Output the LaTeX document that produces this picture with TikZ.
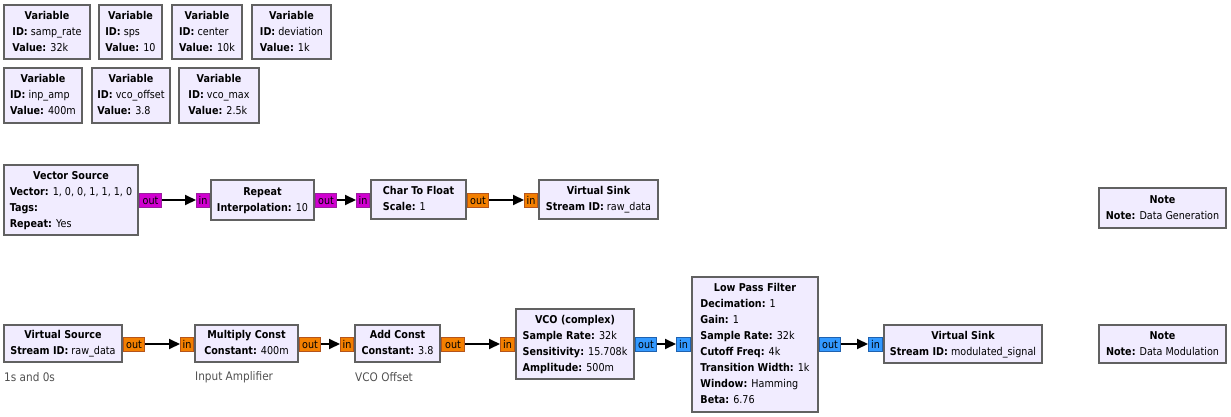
\documentclass[tikz,border=0pt]{standalone}
\usepackage{fontspec}
\setmainfont{DejaVu Sans}[FakeStretch=0.89]
\usetikzlibrary{arrows.meta}
\definecolor{blkfill}{HTML}{F1ECFF}
\definecolor{blkline}{HTML}{616161}
\definecolor{bytec}{HTML}{D000D0}
\definecolor{bytel}{HTML}{9A1FA0}
\definecolor{floatc}{HTML}{F37F00}
\definecolor{floatl}{HTML}{B5551C}
\definecolor{cplxc}{HTML}{3399FF}
\definecolor{cplxl}{HTML}{1F62B0}
\definecolor{cmtc}{HTML}{505050}
\tikzset{
  blk/.style={draw=blkline, fill=blkfill, line width=2pt, inner sep=0pt, rectangle, font=\fontsize{10.8}{16}\selectfont},
  prt/.style={rectangle, line width=1pt, inner sep=0pt, font=\fontsize{10.8}{13}\selectfont, text depth=0pt},
  wire/.style={line width=2pt, -{Triangle[length=11pt,width=10pt]}, shorten >=0pt},
  cmt/.style={anchor=west, inner sep=0pt, text=cmtc, font=\fontsize{11.8}{13}\selectfont},
}
% #1 name, #2 x1, #3 y1, #4 x2, #5 y2, #6 title, #7 params
\newcommand\grcblk[7]{%
  \node[blk, minimum width={(#4-#2-2)*1pt}, minimum height={(#5-#3-2)*1pt}]
    (#1) at ({(#2+#4)/2},{(#3+#5)/2})
    {\raisebox{-1pt}{\begin{tabular}{@{}l@{}}\multicolumn{1}{@{}c@{}}{\bfseries #6}#7\end{tabular}}};}
% #1 name, #2 x1, #3 x2, #4 yc, #5 text, #6 fill, #7 line
\newcommand\grcport[7]{%
  \node[prt, fill=#6, draw=#7, minimum width={(#3-#2-1)*1pt}, minimum height=14pt]
    (#1) at ({(#2+#3)/2},#4) {\raisebox{-0.5pt}{#5}};}
\begin{document}
\begin{tikzpicture}[x=1pt,y=-1pt]
\useasboundingbox (0,0) rectangle (1231,417);
% variables
\grcblk{v1}{3}{4}{91}{60}{Variable}{\\\textbf{ID:} samp\_rate\\\textbf{Value:} 32k}
\grcblk{v2}{98}{4}{163}{60}{Variable}{\\\textbf{ID:} sps\\\textbf{Value:} 10}
\grcblk{v3}{171}{4}{243}{60}{Variable}{\\\textbf{ID:} center\\\textbf{Value:} 10k}
\grcblk{v4}{251}{4}{332}{60}{Variable}{\\\textbf{ID:} deviation\\\textbf{Value:} 1k}
\grcblk{v5}{3}{67}{83}{124}{Variable}{\\\textbf{ID:} inp\_amp\\\textbf{Value:} 400m}
\grcblk{v6}{91}{67}{171}{124}{Variable}{\\\textbf{ID:} vco\_offset\\\textbf{Value:} 3.8}
\grcblk{v7}{178}{67}{260}{124}{Variable}{\\\textbf{ID:} vco\_max\\\textbf{Value:} 2.5k}
% data generation
\grcblk{vsrc}{3}{164}{139}{236}{Vector Source}{\\\textbf{Vector:} 1, 0, 0, 1, 1, 1, 0\\\textbf{Tags:}\\\textbf{Repeat:} Yes}
\grcblk{rep}{210}{179}{315}{221}{Repeat}{\\\textbf{Interpolation:} 10}
\grcblk{ctf}{370}{179}{467}{220}{Char To Float}{\\\textbf{Scale:} 1}
\grcblk{vsk1}{538}{179}{659}{220}{Virtual Sink}{\\\textbf{Stream ID:} raw\_data}
\grcblk{note1}{1098}{187}{1227}{229}{Note}{\\\textbf{Note:} Data Generation}
\grcport{vsrco}{139}{162}{200}{out}{bytec}{bytel}
\grcport{repi}{196}{210}{200}{in}{bytec}{bytel}
\grcport{repo}{315}{337}{200}{out}{bytec}{bytel}
\grcport{ctfi}{356}{370}{200}{in}{bytec}{bytel}
\grcport{ctfo}{467}{489}{200}{out}{floatc}{floatl}
\grcport{vsk1i}{524}{538}{200}{in}{floatc}{floatl}
\draw[wire] (vsrco) -- (repi);
\draw[wire] (repo) -- (ctfi);
\draw[wire] (ctfo) -- (vsk1i);
% modulation
\grcblk{vsc}{3}{324}{123}{363}{Virtual Source}{\\\textbf{Stream ID:} raw\_data}
\grcblk{mul}{194}{324}{299}{363}{Multiply Const}{\\\textbf{Constant:} 400m}
\grcblk{add}{354}{324}{441}{363}{Add Const}{\\\textbf{Constant:} 3.8}
\grcblk{vco}{515}{308}{635}{380}{VCO (complex)}{\\\textbf{Sample Rate:} 32k\\\textbf{Sensitivity:} 15.708k\\\textbf{Amplitude:} 500m}
\grcblk{lpf}{691}{276}{819}{413}{Low Pass Filter}{\\\textbf{Decimation:} 1\\\textbf{Gain:} 1\\\textbf{Sample Rate:} 32k\\\textbf{Cutoff Freq:} 4k\\\textbf{Transition Width:} 1k\\\textbf{Window:} Hamming\\\textbf{Beta:} 6.76}
\grcblk{vsk2}{883}{324}{1043}{364}{Virtual Sink}{\\\textbf{Stream ID:} modulated\_signal}
\grcblk{note2}{1098}{324}{1227}{364}{Note}{\\\textbf{Note:} Data Modulation}
\grcport{vsco}{123}{145}{344}{out}{floatc}{floatl}
\grcport{muli}{180}{194}{344}{in}{floatc}{floatl}
\grcport{mulo}{299}{321}{344}{out}{floatc}{floatl}
\grcport{addi}{340}{354}{344}{in}{floatc}{floatl}
\grcport{addo}{441}{465}{344}{out}{floatc}{floatl}
\grcport{vcoi}{500}{515}{344}{in}{floatc}{floatl}
\grcport{vcoo}{635}{657}{344}{out}{cplxc}{cplxl}
\grcport{lpfi}{676}{691}{344}{in}{cplxc}{cplxl}
\grcport{lpfo}{819}{841}{344}{out}{cplxc}{cplxl}
\grcport{vsk2i}{868}{883}{344}{in}{cplxc}{cplxl}
\draw[wire] (vsco) -- (muli);
\draw[wire] (mulo) -- (addi);
\draw[wire] (addo) -- (vcoi);
\draw[wire] (vcoo) -- (lpfi);
\draw[wire] (lpfo) -- (vsk2i);
\node[cmt] (c1) at (4,377) {1s and 0s};
\node[cmt] (c2) at (195,377) {Input Amplifier};
\node[cmt] (c3) at (355,377) {VCO Offset};
\end{tikzpicture}
\end{document}
